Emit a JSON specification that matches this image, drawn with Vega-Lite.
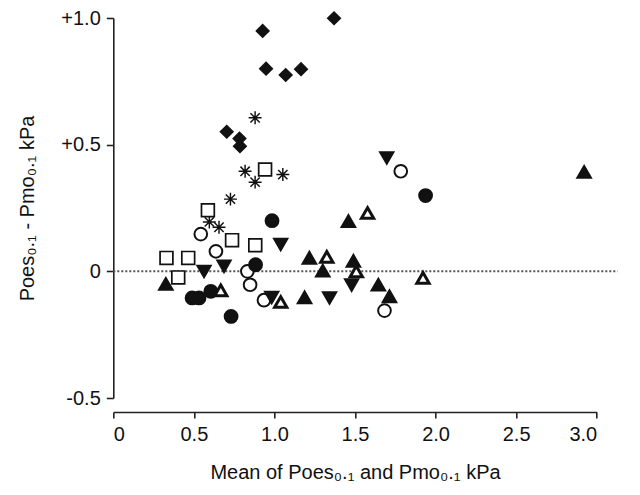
{
  "$schema": "https://vega.github.io/schema/vega-lite/v6.json",
  "autosize": "none",
  "width": 483.4,
  "height": 380,
  "padding": {"left": 113.3, "top": 18, "right": 43.3, "bottom": 97},
  "background": "white",
  "config": {
    "view": {"stroke": null},
    "font": "Liberation Sans",
    "axis": {
      "grid": false,
      "domainColor": "#222",
      "domainWidth": 1.6,
      "tickColor": "#222",
      "tickWidth": 1.6,
      "labelColor": "#111",
      "titleColor": "#111",
      "labelFont": "Liberation Sans",
      "titleFont": "Liberation Sans",
      "labelFontSize": 20,
      "titleFontSize": 20,
      "titleFontWeight": "normal"
    }
  },
  "datasets": {
    "pts": [
      {"g": "A", "mean": 0.927, "diff": 0.949},
      {"g": "A", "mean": 0.948, "diff": 0.800},
      {"g": "A", "mean": 1.070, "diff": 0.775},
      {"g": "A", "mean": 1.165, "diff": 0.798},
      {"g": "A", "mean": 1.370, "diff": 0.999},
      {"g": "A", "mean": 0.704, "diff": 0.551},
      {"g": "A", "mean": 0.783, "diff": 0.524},
      {"g": "A", "mean": 0.786, "diff": 0.494},
      {"g": "B", "mean": 0.880, "diff": 0.606},
      {"g": "B", "mean": 0.818, "diff": 0.395},
      {"g": "B", "mean": 1.052, "diff": 0.382},
      {"g": "B", "mean": 0.880, "diff": 0.352},
      {"g": "B", "mean": 0.727, "diff": 0.285},
      {"g": "B", "mean": 0.596, "diff": 0.195},
      {"g": "B", "mean": 0.656, "diff": 0.174},
      {"g": "C", "mean": 0.942, "diff": 0.402},
      {"g": "C", "mean": 0.587, "diff": 0.241},
      {"g": "C", "mean": 0.737, "diff": 0.123},
      {"g": "C", "mean": 0.881, "diff": 0.103},
      {"g": "C", "mean": 0.330, "diff": 0.053},
      {"g": "C", "mean": 0.465, "diff": 0.053},
      {"g": "C", "mean": 0.403, "diff": -0.024},
      {"g": "D", "mean": 1.784, "diff": 0.395},
      {"g": "D", "mean": 0.543, "diff": 0.147},
      {"g": "D", "mean": 0.637, "diff": 0.079},
      {"g": "D", "mean": 0.832, "diff": 0.000},
      {"g": "D", "mean": 0.849, "diff": -0.053},
      {"g": "D", "mean": 0.935, "diff": -0.114},
      {"g": "D", "mean": 1.683, "diff": -0.155},
      {"g": "E", "mean": 1.938, "diff": 0.299},
      {"g": "E", "mean": 0.985, "diff": 0.200},
      {"g": "E", "mean": 0.883, "diff": 0.026},
      {"g": "E", "mean": 0.605, "diff": -0.079},
      {"g": "E", "mean": 0.489, "diff": -0.105},
      {"g": "E", "mean": 0.532, "diff": -0.105},
      {"g": "E", "mean": 0.731, "diff": -0.178},
      {"g": "F", "mean": 1.697, "diff": 0.448},
      {"g": "F", "mean": 1.039, "diff": 0.106},
      {"g": "F", "mean": 0.687, "diff": 0.020},
      {"g": "F", "mean": 0.563, "diff": 0.000},
      {"g": "F", "mean": 1.479, "diff": -0.054},
      {"g": "F", "mean": 0.983, "diff": -0.103},
      {"g": "F", "mean": 1.342, "diff": -0.105},
      {"g": "G", "mean": 2.922, "diff": 0.392},
      {"g": "G", "mean": 1.459, "diff": 0.198},
      {"g": "G", "mean": 1.217, "diff": 0.053},
      {"g": "G", "mean": 1.490, "diff": 0.041},
      {"g": "G", "mean": 1.300, "diff": 0.002},
      {"g": "G", "mean": 1.645, "diff": -0.053},
      {"g": "G", "mean": 1.714, "diff": -0.099},
      {"g": "G", "mean": 1.187, "diff": -0.103},
      {"g": "G", "mean": 0.326, "diff": -0.050},
      {"g": "H", "mean": 1.578, "diff": 0.230},
      {"g": "H", "mean": 1.325, "diff": 0.057},
      {"g": "H", "mean": 1.508, "diff": 0.000},
      {"g": "H", "mean": 1.922, "diff": -0.026},
      {"g": "H", "mean": 0.667, "diff": -0.075},
      {"g": "H", "mean": 1.039, "diff": -0.121}
    ]
  },
  "layer": [
    {
      "data": {"values": [{"x0": 0, "x1": 3.13, "y0": 0}]},
      "mark": {"type": "rule", "color": "#555", "strokeWidth": 2, "strokeDash": [2, 2], "clip": false},
      "encoding": {
        "x": {"field": "x0", "type": "quantitative"},
        "x2": {"field": "x1"},
        "y": {"field": "y0", "type": "quantitative"}
      }
    },
    {
      "data": {"name": "pts"},
      "mark": {"type": "point", "stroke": "#111", "opacity": 1, "fillOpacity": 1},
      "encoding": {
        "x": {
          "field": "mean", "type": "quantitative",
          "scale": {"domain": [0, 3], "nice": false, "zero": false},
          "axis": {
            "values": [0, 0.5, 1, 1.5, 2, 2.5, 3],
            "offset": 14,
            "tickSize": 6,
            "labelPadding": 6,
            "labelExpr": "datum.value == 0 ? '0' : format(datum.value, '.1f')",
            "title": "Mean of Poes₀.₁ and Pmo₀.₁  kPa",
            "titlePadding": 18
          }
        },
        "y": {
          "field": "diff", "type": "quantitative",
          "scale": {"domain": [-0.5, 1.0], "nice": false, "zero": false},
          "axis": {
            "values": [-0.5, 0, 0.5, 1.0],
            "tickSize": 7,
            "labelPadding": 6,
            "labelExpr": "datum.value > 0 ? '+' + format(datum.value, '.1f') : (datum.value == 0 ? '0' : '-' + format(-datum.value, '.1f'))",
            "title": "Poes₀.₁ - Pmo₀.₁  kPa",
            "titlePadding": 23
          }
        },
        "shape": {
          "field": "g", "type": "nominal", "legend": null,
          "scale": {
            "domain": ["A", "B", "C", "D", "E", "F", "G", "H"],
            "range": ["diamond", "M0,-1L0,1M-1,0L1,0M-0.72,-0.72L0.72,0.72M-0.72,0.72L0.72,-0.72", "square", "circle", "circle", "triangle-down", "triangle-up", "triangle-up"]
          }
        },
        "size": {
          "field": "g", "type": "nominal", "legend": null,
          "scale": {
            "domain": ["A", "B", "C", "D", "E", "F", "G", "H"],
            "range": [170, 150, 140, 135, 140, 140, 140, 140]
          }
        },
        "fill": {
          "field": "g", "type": "nominal", "legend": null,
          "scale": {
            "domain": ["A", "B", "C", "D", "E", "F", "G", "H"],
            "range": ["#111", "#111", "white", "white", "#111", "#111", "#111", "white"]
          }
        },
        "strokeWidth": {
          "field": "g", "type": "nominal", "legend": null,
          "scale": {
            "domain": ["A", "B", "C", "D", "E", "F", "G", "H"],
            "range": [1.2, 3, 1.8, 1.8, 1, 1, 1, 1.8]
          }
        }
      }
    }
  ]
}
